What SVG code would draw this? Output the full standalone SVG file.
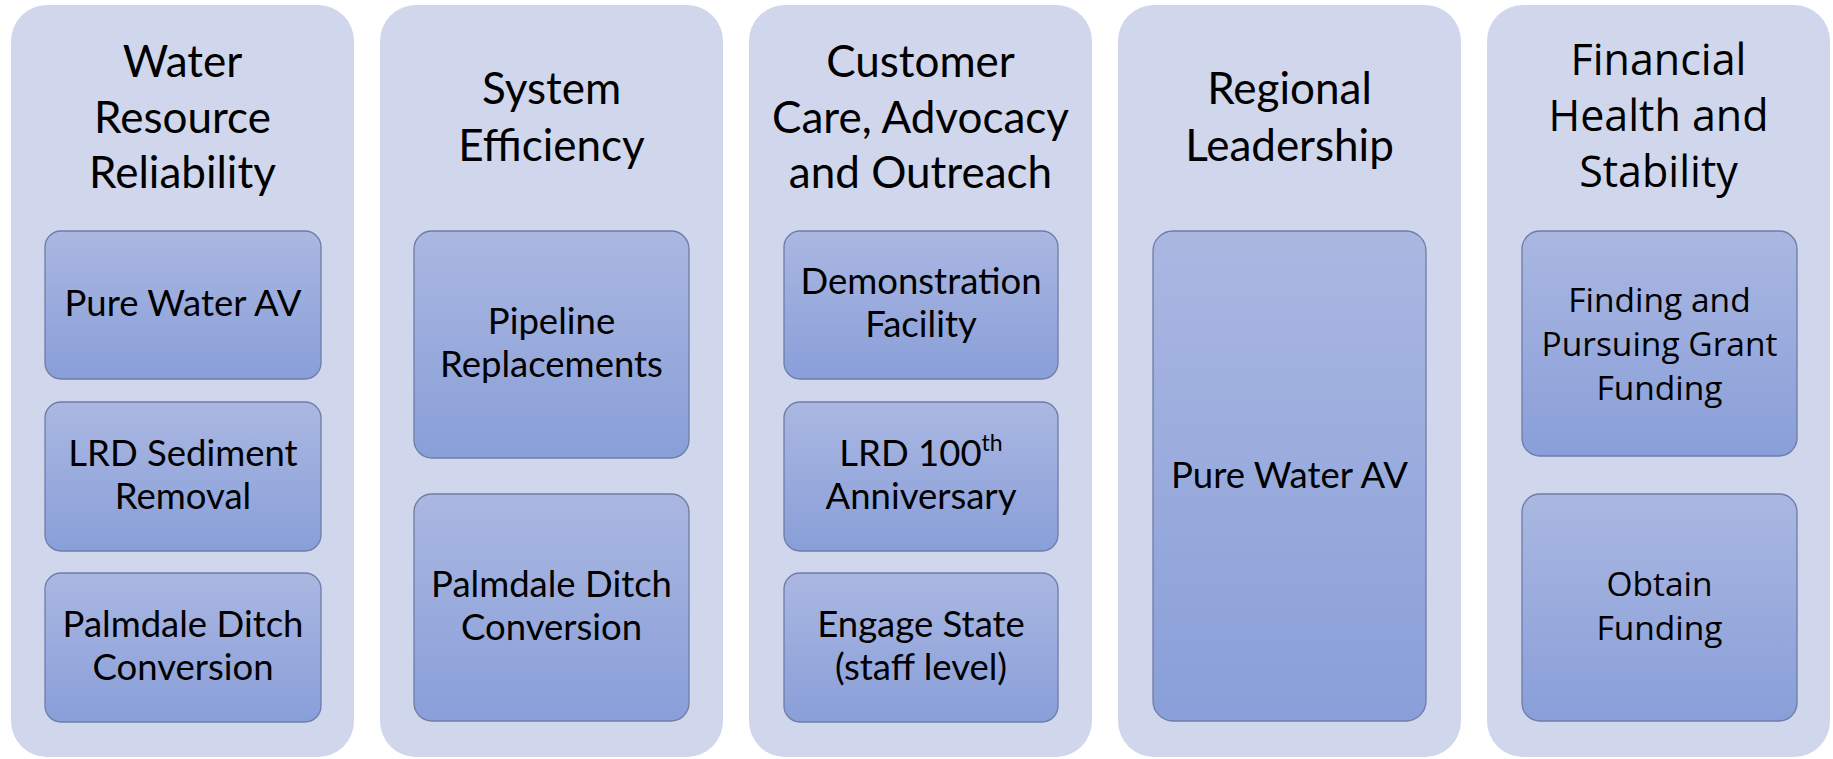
<svg xmlns="http://www.w3.org/2000/svg" width="1833" height="759" viewBox="0 0 1833 759">
<defs>
<linearGradient id="g" x1="0" y1="0" x2="0" y2="1">
<stop offset="0" stop-color="#AAB7E1"/>
<stop offset="1" stop-color="#899FD9"/>
</linearGradient>
<style>
.col{fill:#D0D6EB}
.box{fill:url(#g);stroke:#6F7CA6;stroke-width:1.3}
.t{font-family:Lato,"Open Sans",sans-serif;font-size:44px;fill:#000;text-anchor:middle}
.b{font-family:Lato,"Open Sans",sans-serif;font-size:36.5px;fill:#000;text-anchor:middle}
.t2{font-family:"Open Sans",sans-serif;font-size:43px;fill:#000;text-anchor:middle}
.b2{font-family:"Open Sans",sans-serif;font-size:33.5px;fill:#000;text-anchor:middle}
</style>
</defs>
<rect width="1833" height="759" fill="#FFFFFF"/>
<g id="connectors"></g>
<g id="col1">
<rect class="col" x="11" y="5" width="343" height="752" rx="36"/>
<text class="t" x="182.5" y="77">Water</text>
<text class="t" x="182.5" y="133">Resource</text>
<text class="t" x="182.5" y="188">Reliability</text>
</g>
<g id="n1a"><rect class="box" x="45" y="231" width="276" height="148" rx="16"/><text class="b" x="183" y="316">Pure Water AV</text></g>
<g id="n1b"><rect class="box" x="45" y="402" width="276" height="149" rx="16"/><text class="b" x="183" y="466">LRD Sediment</text><text class="b" x="183" y="509">Removal</text></g>
<g id="n1c"><rect class="box" x="45" y="573" width="276" height="149" rx="16"/><text class="b" x="183" y="637">Palmdale Ditch</text><text class="b" x="183" y="680">Conversion</text></g>

<g id="col2">
<rect class="col" x="380" y="5" width="343" height="752" rx="36"/>
<text class="t" x="551.5" y="104">System</text>
<text class="t" x="551.5" y="161">Efficiency</text>
</g>
<g id="n2a"><rect class="box" x="414" y="231" width="275" height="227" rx="18"/><text class="b" x="551.5" y="334">Pipeline</text><text class="b" x="551.5" y="377">Replacements</text></g>
<g id="n2b"><rect class="box" x="414" y="494" width="275" height="227" rx="18"/><text class="b" x="551.5" y="597">Palmdale Ditch</text><text class="b" x="551.5" y="640">Conversion</text></g>

<g id="col3">
<rect class="col" x="749" y="5" width="343" height="752" rx="36"/>
<text class="t" x="920.5" y="77">Customer</text>
<text class="t" x="920.5" y="133">Care, Advocacy</text>
<text class="t" x="920.5" y="188">and Outreach</text>
</g>
<g id="n3a"><rect class="box" x="784" y="231" width="274" height="148" rx="16"/><text class="b" x="921" y="294">Demonstration</text><text class="b" x="921" y="337">Facility</text></g>
<g id="n3b"><rect class="box" x="784" y="402" width="274" height="149" rx="16"/><text class="b" x="921" y="466">LRD 100<tspan font-size="23" dy="-15">th</tspan></text><text class="b" x="921" y="509">Anniversary</text></g>
<g id="n3c"><rect class="box" x="784" y="573" width="274" height="149" rx="16"/><text class="b" x="921" y="637">Engage State</text><text class="b" x="921" y="680">(staff level)</text></g>

<g id="col4">
<rect class="col" x="1118" y="5" width="343" height="752" rx="36"/>
<text class="t" x="1289.5" y="104">Regional</text>
<text class="t" x="1289.5" y="161">Leadership</text>
</g>
<g id="n4a"><rect class="box" x="1153" y="231" width="273" height="490" rx="20"/><text class="b" x="1289.5" y="488">Pure Water AV</text></g>

<g id="col5">
<rect class="col" x="1487" y="5" width="343" height="752" rx="36"/>
<text class="t2" x="1658.5" y="75">Financial</text>
<text class="t2" x="1658.5" y="131">Health and</text>
<text class="t2" x="1658.5" y="187">Stability</text>
</g>
<g id="n5a"><rect class="box" x="1522" y="231" width="275" height="225" rx="18"/><text class="b2" x="1659.5" y="312">Finding and</text><text class="b2" x="1659.5" y="356">Pursuing Grant</text><text class="b2" x="1659.5" y="400">Funding</text></g>
<g id="n5b"><rect class="box" x="1522" y="494" width="275" height="227" rx="18"/><text class="b2" x="1659.5" y="596">Obtain</text><text class="b2" x="1659.5" y="640">Funding</text></g>
</svg>
